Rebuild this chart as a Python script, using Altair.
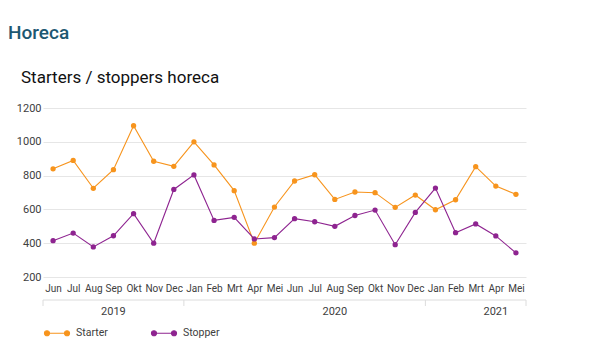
import altair as alt
import pandas as pd

months = ["Jun", "Jul", "Aug", "Sep", "Okt", "Nov", "Dec",
          "Jan", "Feb", "Mrt", "Apr", "Mei", "Jun", "Jul", "Aug", "Sep", "Okt", "Nov", "Dec",
          "Jan", "Feb", "Mrt", "Apr", "Mei"]
years = [2019] * 7 + [2020] * 12 + [2021] * 5
starter = [840, 890, 725, 835, 1095, 885, 855, 1000, 863, 711, 400, 614, 768,
           805, 659, 703, 699, 612, 685, 598, 657, 853, 738, 689]
stopper = [415, 460, 378, 444, 575, 400, 718, 804, 535, 553, 425, 433, 545,
           527, 500, 564, 596, 391, 582, 726, 462, 514, 443, 343]
series_names = ["Starter", "Stopper"]
series_colors = ["#F7941D", "#8E2490"]
year_labels = ["2019", "2020", "2021"]
year_label_anchor = ["Sep 2019", "Aug 2020", "Apr 2021"]
y_ticks = [200, 400, 600, 800, 1000, 1200]

keys = [f"{m} {y}" for m, y in zip(months, years)]
rows = []
for k, s, p in zip(keys, starter, stopper):
    rows.append({"key": k, "value": s, "series": "Starter"})
    rows.append({"key": k, "value": p, "series": "Stopper"})
df = pd.DataFrame(rows)

W, H = 483, 169
half = W / len(keys) / 2
FONT = "Roboto, sans-serif"
LABEL_COLOR = "#404040"

xscale = alt.Scale(type="point", padding=0.5, domain=keys)
xaxis = alt.Axis(title=None, labelExpr="split(datum.label, ' ')[0]", labelAngle=0,
                 ticks=False, domain=False, grid=False, labelFont=FONT, labelFontSize=10,
                 labelColor=LABEL_COLOR, labelPadding=6, labelOverlap=False)
x = alt.X("key:N", sort=keys, scale=xscale, axis=xaxis)
y = alt.Y("value:Q", scale=alt.Scale(domain=[200, 1200], nice=False, zero=False),
          axis=alt.Axis(title=None, values=y_ticks, format="d", ticks=False, domain=False,
                        gridColor="#e6e6e6", gridWidth=1, labelFont=FONT, labelFontSize=11,
                        labelColor=LABEL_COLOR, labelPadding=2))

sym = ("M-1,0L1,0"
       "M-1.25,0a0.25,0.25 0 1,0 0.5,0a0.25,0.25 0 1,0 -0.5,0"
       "M0.75,0a0.25,0.25 0 1,0 0.5,0a0.25,0.25 0 1,0 -0.5,0")
legend = alt.Legend(title=None, orient="none", legendX=3, legendY=214, direction="horizontal",
                    symbolType=sym, symbolSize=400, symbolStrokeWidth=1.2,
                    labelFont=FONT, labelFontSize=10.5, labelColor=LABEL_COLOR,
                    labelOffset=8, columnPadding=41)
cscale = alt.Scale(domain=series_names, range=series_colors)

lines = alt.Chart(df).mark_line(strokeWidth=1.1).encode(
    x=x, y=y, stroke=alt.Stroke("series:N", scale=cscale, legend=legend))
points = alt.Chart(df).mark_circle(size=28, opacity=1).encode(
    x=x, y=y, fill=alt.Fill("series:N", scale=cscale, legend=legend))

# year bracket below the month labels
starts = [keys[0]] + [keys[i] for i in range(1, len(keys)) if years[i] != years[i - 1]]

hline = alt.Chart(pd.DataFrame([{"key": keys[0], "b": keys[-1]}])).mark_rule(
    color="#dcdcdc", strokeWidth=1, xOffset=-half, x2Offset=half).encode(
    x=x, x2="b:N", y=alt.value(192))
vticks_start = alt.Chart(pd.DataFrame({"key": starts})).mark_rule(
    color="#dcdcdc", strokeWidth=1, xOffset=-half).encode(
    x=x, y=alt.value(192), y2=alt.value(198))
vtick_end = alt.Chart(pd.DataFrame({"key": [keys[-1]]})).mark_rule(
    color="#dcdcdc", strokeWidth=1, xOffset=half).encode(
    x=x, y=alt.value(192), y2=alt.value(198))
ydf = pd.DataFrame({"year": year_labels, "key": year_label_anchor})
ytext = alt.Chart(ydf).mark_text(font=FONT, fontSize=11, color=LABEL_COLOR, baseline="middle").encode(
    x=x, y=alt.value(204), text="year:N")

t1 = alt.Chart(pd.DataFrame({"t": ["Horeca"]})).mark_text(
    font="Roboto", fontSize=19, fontWeight=500, color="#1D5872", align="left",
    baseline="alphabetic").encode(x=alt.value(-35), y=alt.value(-69), text="t:N")
t2 = alt.Chart(pd.DataFrame({"t": ["Starters / stoppers horeca"]})).mark_text(
    font="Roboto", fontSize=17, fontWeight="normal", color="#111111", align="left",
    baseline="alphabetic").encode(x=alt.value(-22), y=alt.value(-25), text="t:N")

chart = alt.layer(lines, points, hline, vticks_start, vtick_end, ytext, t1, t2).properties(
    width=W, height=H, autosize="none",
    padding={"left": 35, "top": 100, "right": 66, "bottom": 70},
).configure_view(stroke=None)

chart.save("out.html", embed_options={"renderer": "svg", "actions": False})
